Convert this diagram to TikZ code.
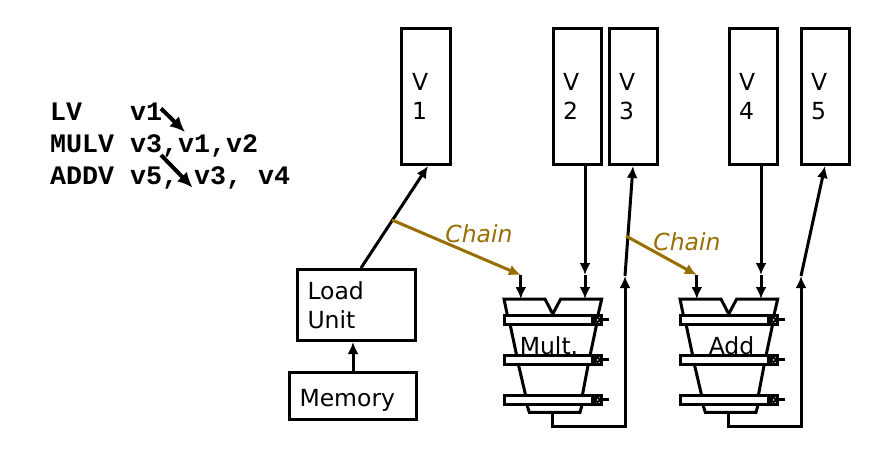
\documentclass[tikz,border=0pt]{standalone}
\usepackage{fontspec}
\usetikzlibrary{arrows.meta}
\setmainfont{DejaVu Sans}
\setmonofont{Liberation Mono}
\definecolor{chaincol}{HTML}{996E00}
\tikzset{
    wire/.style={line width=3pt, -{Latex[length=12pt,width=11pt]}},
    regbox/.style={draw, line width=3pt, minimum height=136pt, inner xsep=10pt, inner ysep=0pt,
        text width=28pt, align=left, font=\fontsize{23.5}{28.5}\selectfont},
    unitbox/.style={draw, line width=3pt, inner xsep=10pt, inner ysep=0pt,
        align=left, font=\fontsize{23.5}{28}\selectfont},
    chainwire/.style={line width=3pt, -{Latex[length=12pt,width=11pt]}, draw=chaincol},
    chainlabel/.style={text=chaincol, font=\fontsize{23.5}{28}\selectfont\itshape},
    codeline/.style={anchor=base west, inner sep=0pt, font=\fontsize{26.67}{32}\selectfont\ttfamily\bfseries},
    codearrow/.style={line width=4pt, -{Latex[length=15pt,width=14pt]}},
    % one pipelined functional unit, origin at its top left corner
    funit/.pic={
        \draw[line width=3pt] (3.3,16) -- (0,0) -- (41,0) -- (48.7,15) -- (56.7,0) -- (97.7,0) -- (94,16);
        \foreach \y in {16.7,56.7,96.7} {
            \draw[line width=3pt] (0,\y) rectangle (97.7,\y+8.3);
            \draw[line width=3pt] (93,\y+4.2) -- (105,\y+4.2);
            \fill (87,\y+1.5) -- (92,\y+1.5) -- (92,\y+7) -- (87,\y+7) -- cycle;
            \draw[line width=2pt, fill=white] (93.5,\y+4.2) circle (2);
        }
        \draw[line width=3pt] (6,25) -- (12.7,56.7);
        \draw[line width=3pt] (92.7,25) -- (86,56.7);
        \draw[line width=3pt] (14.3,65) -- (21.7,96.7);
        \draw[line width=3pt] (84.3,65) -- (78.3,96.7);
        \draw[line width=3pt] (22.7,105) -- (25.3,113.3) -- (76,113.3) -- (78.3,105);
        \coordinate (-ina) at (16.8,0);
        \coordinate (-inb) at (81,0);
        \coordinate (-out) at (48.7,113.3);
    },
}
\begin{document}
\begin{tikzpicture}[>=latex, x=1pt, y=-1pt]
    \useasboundingbox (0,0) rectangle (880,465);

    % Instruction sequence
    \node[codeline] (lv) at (50,120.5) {LV\ \ \ v1};
    \node[codeline] (mulv) at (50,152.5) {MULV v3,v1,v2};
    \node[codeline] (addv) at (50,184.5) {ADDV v5,\ v3,\ v4};
    \coordinate (lvfrom) at (161,108.5);
    \coordinate (lvto) at (185,132);
    \coordinate (mulfrom) at (161,155);
    \coordinate (multo) at (192.5,187.5);
    \draw[codearrow] (lvfrom) -- (lvto);
    \draw[codearrow] (mulfrom) -- (multo);

    % Vector registers
    \node[regbox, minimum width=49pt] (v1) at (426,96.5) {V\\1};
    \node[regbox, minimum width=47pt] (v2) at (577,96.5) {V\\2};
    \node[regbox, minimum width=47pt] (v3) at (633,96.5) {V\\3};
    \node[regbox, minimum width=47pt] (v4) at (753,96.5) {V\\4};
    \node[regbox, minimum width=47pt] (v5) at (825,96.5) {V\\5};

    % Load path
    \node[unitbox, minimum width=118pt, minimum height=71pt, text width=98pt] (load) at (356.5,305) {Load\\[0.5pt]Unit};
    \node[unitbox, minimum width=127pt, minimum height=47pt, text width=107pt] (memory) at (353,396) {\smash{\raisebox{-10pt}{Memory}}};
    \draw[wire] (memory.north) -- (memory.north |- load.south);
    \draw[wire] ([xshift=4.5pt]load.north) -- ([xshift=2pt]v1.south);

    % Functional units
    \pic (mult) at (504,299) {funit};
    \pic (add) at (680,299) {funit};
    \node[inner sep=0pt, anchor=base, font=\fontsize{23.5}{28}\selectfont] (multlabel) at (549,354) {Mult.};
    \node[inner sep=0pt, anchor=base, font=\fontsize{23.5}{28}\selectfont] (addlabel) at (731.5,354) {Add};

    % Operands
    \coordinate (multtap) at (585,275);
    \coordinate (addtap) at (761,275);
    \coordinate (multbus) at (625,276);
    \coordinate (addbus) at (801,276);
    \draw[wire] (mult-inb |- v2.south) -- (multtap);
    \draw[wire] (multtap) -- (mult-inb);
    \draw[wire] (add-inb |- v4.south) -- (addtap);
    \draw[wire] (addtap) -- (add-inb);

    % Results
    \draw[wire] (mult-out) -- ++(0,14) -| (multbus);
    \draw[wire] (multbus) -- (v3.south);
    \draw[wire] (add-out) -- ++(0,14) -| (addbus);
    \draw[wire] (addbus) -- (v5.south);

    % Chaining
    \coordinate (chainaup) at (392,220);
    \coordinate (chainadown) at (520.8,275);
    \coordinate (chainbup) at (626,236);
    \coordinate (chainbdown) at (696.8,275);
    \draw[wire] (chainadown) -- (mult-ina);
    \draw[wire] (chainbdown) -- (add-ina);
    \draw[chainwire] (chainaup) -- (chainadown);
    \draw[chainwire] (chainbup) -- (chainbdown);
    \node[chainlabel] (chaina) at (479,234) {Chain};
    \node[chainlabel] (chainb) at (687,242) {Chain};
\end{tikzpicture}
\end{document}
